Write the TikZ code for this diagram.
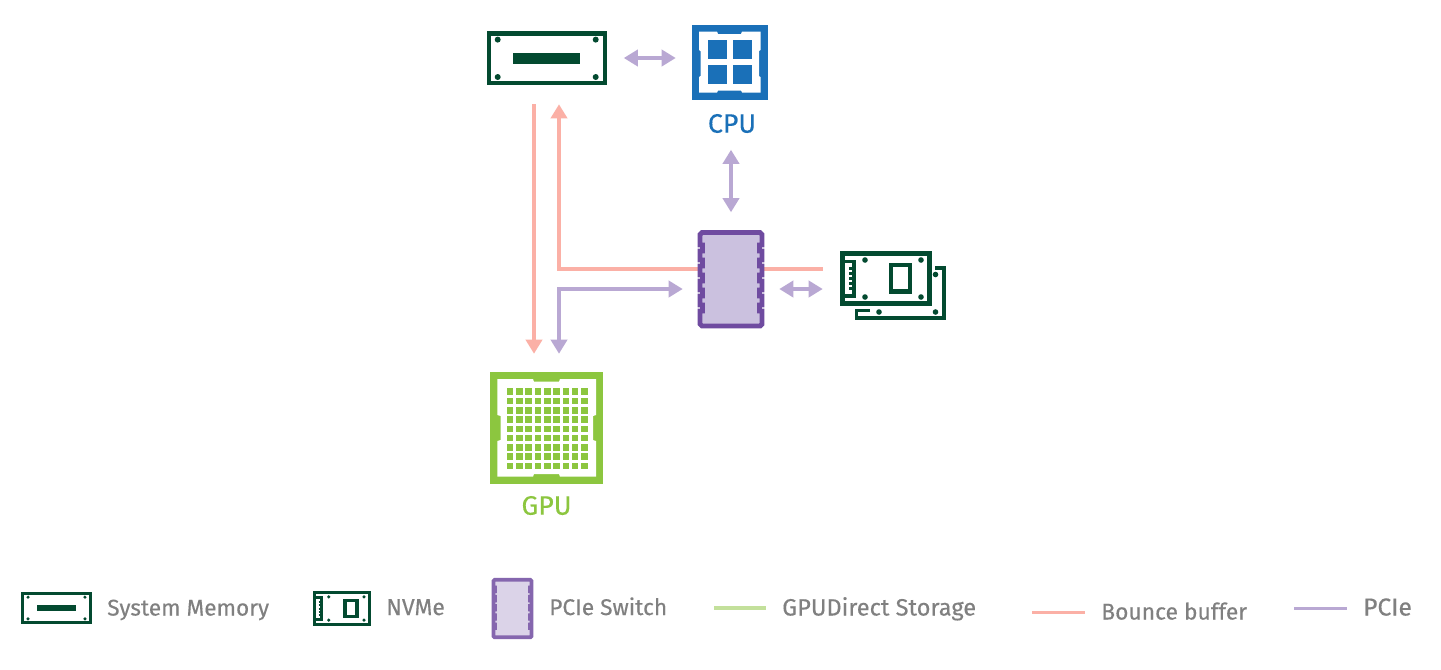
\documentclass[tikz,border=0pt]{standalone}
\usepackage{fontspec}
\setmainfont{Fira Sans}
\newfontfamily\dinfont[FakeBold=0.3]{Fira Sans}
\usetikzlibrary{arrows.meta}
\definecolor{dkgreen}{HTML}{034A30}
\definecolor{cpublue}{HTML}{1A70B8}
\definecolor{gpugreen}{HTML}{8CC63F}
\definecolor{swpurple}{HTML}{6F4BA0}
\definecolor{swfill}{HTML}{CBC1DF}
\definecolor{swfilllight}{HTML}{DBD3E8}
\definecolor{lilac}{HTML}{B9A8D3}
\definecolor{salmon}{HTML}{FBB0A6}
\definecolor{lgreen}{HTML}{C3E09B}
\definecolor{txtgrey}{HTML}{808080}
\tikzset{x=0.75pt,y=-0.75pt,
 lilacline/.style={draw=lilac,line width=3.5pt},
 salmline/.style={draw=salmon,line width=3.5pt},
 bothtip/.style={{Triangle[length=10.5pt,width=12pt]}-{Triangle[length=10.5pt,width=12pt]}},
 endtip/.style={-{Triangle[length=10.5pt,width=12pt]}},
 legtext/.style={text=txtgrey,anchor=base west,inner sep=0pt},
 anchorpt/.style={inner sep=0pt,minimum size=0pt}
}
\newcommand{\lsize}[1]{\fontsize{#1pt}{20pt}\dinfont}
% #4 stroke width of the outline
\newcommand{\memicon}[4]{%
 \begin{scope}[shift={(#1,#2)},scale=#3]
 \draw[dkgreen,line width=#4,fill=white] (-58,-24.8) rectangle (58,24.8);
 \fill[dkgreen] (-33.5,-5.3) rectangle (33.5,5.3);
 \foreach \a/\b in {-49/-18.7,49/-18.7,-49/18.7,49/18.7}
   \fill[dkgreen] (\a,\b) circle (3);
 \end{scope}}
\newcommand{\cardicon}[4]{%
 \begin{scope}[shift={(#1,#2)},scale=#3]
 \draw[dkgreen,line width=#4,fill=white] (-43.5,-25) rectangle (43.5,25);
 \draw[dkgreen,line width=#4*0.9] (-43.5,-17) -- (-32,-17) -- (-32,17.5) -- (-43.5,17.5);
 \foreach \b in {-10,-5,0,5,10} \draw[dkgreen,line width=#4*0.6] (-37,\b) -- (-32,\b);
 \draw[dkgreen,line width=#4] (5,-13.2) rectangle (24,13);
 \foreach \a/\b in {-21/-18.5,35/-18.5,-21/18.5,35/18.5}
   \fill[dkgreen] (\a,\b) circle (2.8);
 \end{scope}}
\newcommand{\switchpath}{%
 (702,232.5) -- (760,232.5) -- (762,234.5)
 \foreach \y in {245,260,275,290,305} {
   -- (762,\y) -- (759.5,\y) -- (759.5,\y+6) -- (762,\y+6) }
 -- (762,324) -- (760,326)
 -- (702,326) -- (700,324)
 \foreach \y in {305,290,275,260,245} {
   -- (700,\y+6) -- (702.5,\y+6) -- (702.5,\y) -- (700,\y) }
 -- (700,234.5) -- cycle}
\begin{document}
\begin{tikzpicture}
\useasboundingbox (0,0) rectangle (1441,669);
\fill[white] (0,0) rectangle (1441,669);

\node[anchorpt] (memL) at (534,104) {};
\node[anchorpt] (gpuL) at (534,354) {};
\node[anchorpt] (memR) at (559,104) {};
\node[anchorpt] (gpuR) at (559,354) {};
\coordinate (c1) at (559,269);
\coordinate (c2) at (559,289);
\node[anchorpt] (swL1) at (699,269) {};
\node[anchorpt] (swL2) at (683,289) {};
\node[anchorpt] (swR1) at (763,269) {};
\node[anchorpt] (nvR1) at (823,269) {};
\node[anchorpt] (swR2) at (779,289) {};
\node[anchorpt] (nvR2) at (823,289) {};
\node[anchorpt] (memE) at (623.5,58) {};
\node[anchorpt] (cpuW) at (676,58) {};
\node[anchorpt] (cpuS) at (731,149.5) {};
\node[anchorpt] (swN) at (731,212.5) {};

\draw[salmline,endtip] (memL) -- (gpuL);
\draw[salmline,endtip] (swL1) -- (c1) -- (memR);
\draw[lilacline,bothtip] (swL2) -- (c2) -- (gpuR);
\draw[salmline] (swR1) -- (nvR1);
\draw[lilacline,bothtip] (swR2) -- (nvR2);
\draw[lilacline,bothtip] (memE) -- (cpuW);
\draw[lilacline,bothtip] (cpuS) -- (swN);

\memicon{546.7}{58.3}{1}{3.2pt}

% CPU
\fill[cpublue] (692,24.5) rectangle (767.5,99.5);
\fill[white] (699,31.5) -- (717,31.5) -- (718,34) -- (741,34) -- (742,31.5) -- (760.5,31.5)
 -- (760.5,50) -- (759,51) -- (759,76) -- (760.5,77) -- (760.5,92.5) -- (742,92.5) -- (741,90.5) -- (718,90.5) -- (717,92.5) -- (699,92.5)
 -- (699,77) -- (700.5,76) -- (700.5,51) -- (699,50) -- cycle;
\foreach \a in {708,733} \foreach \b in {40,65} \fill[cpublue] (\a,\b) rectangle (\a+18.5,\b+18.5);
\node[text=cpublue,font=\lsize{20},inner sep=0pt] (cpulabel) at (732,123.5) {CPU};

% switch
\draw[swpurple,line width=3.7pt,fill=swfill,line join=miter] \switchpath;

% NVMe
\draw[dkgreen,line width=2.9pt] (870,310.5) -- (856.5,310.5) -- (856.5,318) -- (944,318) -- (944,268) -- (935,268);
\fill[dkgreen] (935.5,274.5) circle (2.8);
\fill[dkgreen] (879,312) circle (2.8);
\fill[dkgreen] (935.5,312) circle (2.8);
\cardicon{886}{278.5}{1}{3.2pt}

% GPU
\fill[gpugreen] (490.3,371.7) rectangle (602.7,484.3);
\fill[white] (497.3,379) -- (533,379) -- (534,381.7) -- (559,381.7) -- (560,379) -- (596,379)
 -- (596,415) -- (593,416) -- (593,440) -- (596,441) -- (596,476.7) -- (560,476.7) -- (559,474) -- (534,474) -- (533,476.7) -- (497.3,476.7)
 -- (497.3,441) -- (500.7,440) -- (500.7,416) -- (497.3,415) -- cycle;
\foreach \i in {0,...,8} \foreach \j in {0,...,8}
 \fill[gpugreen] (506.7+\i*9.3,388.3+\j*9.3) rectangle +(6.6,6.6);
\node[text=gpugreen,font=\lsize{20},inner sep=0pt] (gpulabel) at (546.5,505.5) {GPU};

% legend
\memicon{56.5}{608}{0.58}{2.4pt}
\node[legtext,font=\lsize{17}] (l1) at (107,615.5) {System Memory};
\cardicon{342}{608.5}{0.63}{2.5pt}
\node[legtext,font=\lsize{17.2}] (l2) at (386,615) {NVMe};
\begin{scope}[shift={(512.5,608.5)},scale=0.615,shift={(-731,-279.2)}]
\draw[swpurple!85,line width=2.8pt,fill=swfilllight,line join=miter] \switchpath;
\end{scope}
\node[legtext,font=\lsize{17}] (l3) at (549,615) {PCIe Switch};
\coordinate (k1a) at (714,608); \coordinate (k1b) at (766,608);
\draw[draw=lgreen,line width=2.5pt] (k1a) -- (k1b);
\node[legtext,font=\lsize{17.7}] (l4) at (782,615.5) {GPUDirect Storage};
\coordinate (k2a) at (1032,612.5); \coordinate (k2b) at (1085,612.5);
\draw[draw=salmon,line width=2.5pt] (k2a) -- (k2b);
\node[legtext,font=\lsize{17.1}] (l5) at (1101,619.5) {Bounce buffer};
\coordinate (k3a) at (1294,608.5); \coordinate (k3b) at (1347,608.5);
\draw[draw=lilac,line width=2.5pt] (k3a) -- (k3b);
\node[legtext,font=\lsize{18.4}] (l6) at (1363,615.5) {PCIe};
\end{tikzpicture}
\end{document}
